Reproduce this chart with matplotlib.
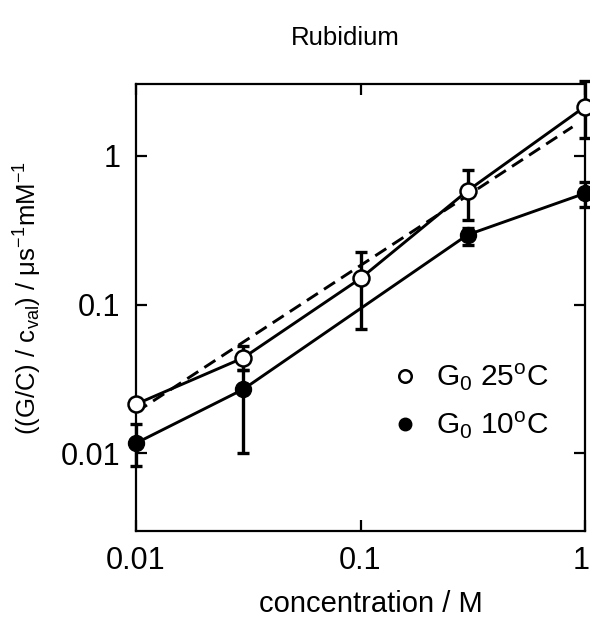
import matplotlib
matplotlib.use("Agg")
import matplotlib.pyplot as plt
import matplotlib.transforms as mtransforms
from matplotlib.lines import Line2D

plt.rcParams['font.family'] = ['Liberation Sans', 'DejaVu Sans']
plt.rcParams['mathtext.fontset'] = 'custom'
plt.rcParams['mathtext.rm'] = 'Liberation Sans'
plt.rcParams['mathtext.it'] = 'Liberation Sans:italic'
plt.rcParams['mathtext.bf'] = 'Liberation Sans:bold'

# Data
conc_25 = [0.01, 0.03, 0.1, 0.3, 1.0]
g_25 = [0.0214, 0.0438, 0.150, 0.584, 2.15]
g_25_low = [0.0200, 0.0362, 0.069, 0.373, 1.33]
g_25_high = [0.0230, 0.0528, 0.227, 0.805, 3.2]

conc_10 = [0.01, 0.03, 0.3, 1.0]
g_10 = [0.0117, 0.0269, 0.295, 0.561]
g_10_low = [0.0082, 0.0101, 0.250, 0.456]
g_10_high = [0.0158, 0.0362, 0.330, 0.665]

fit_x = [0.01, 0.88]
fit_y = [0.0189, 1.57]

x_ticks = [0.01, 0.1, 1]
x_labels = ['0.01', '0.1', '1']
y_ticks = [0.01, 0.1, 1]
y_labels = ['0.01', '0.1', '1']

fig = plt.figure(figsize=(5.9, 6.2), dpi=100)
ax = fig.add_axes([136/590, 1 - 531/620, (585-136)/590, (531-84)/620])
ax.set_xscale('log')
ax.set_yscale('log')
ax.set_xlim(0.01, 1.0)
ax.set_ylim(0.003, 3.05)

lw = 2.1
# dashed fit
ax.plot(fit_x, fit_y, color='black', lw=lw, linestyle=(0, (4.5, 2.5)), zorder=2)

# error bars
err25 = [[g - l for g, l in zip(g_25, g_25_low)], [h - g for g, h in zip(g_25, g_25_high)]]
err10 = [[g - l for g, l in zip(g_10, g_10_low)], [h - g for g, h in zip(g_10, g_10_high)]]
for xs, ys, err in [(conc_25, g_25, err25), (conc_10, g_10, err10)]:
    eb = ax.errorbar(xs, ys, yerr=err, fmt='none', ecolor='black', elinewidth=2.4,
                     capsize=4.5, capthick=2.4, zorder=3)
    for art in eb.lines[1] + eb.lines[2]:
        art.set_clip_on(False)

ax.plot(conc_25, g_25, color='black', lw=lw, zorder=2)
ax.plot(conc_10, g_10, color='black', lw=lw, zorder=2)
ax.plot(conc_25, g_25, linestyle='none', marker='o', markersize=11.5,
        markerfacecolor='white', markeredgecolor='black', markeredgewidth=1.8,
        zorder=4, clip_on=False)
ax.plot(conc_10, g_10, linestyle='none', marker='o', markersize=11.5,
        markerfacecolor='black', markeredgecolor='black', zorder=4, clip_on=False)

ax.minorticks_off()
ax.set_xticks(x_ticks)
ax.set_xticklabels(x_labels)
ax.set_yticks(y_ticks)
ax.set_yticklabels(y_labels)
ax.tick_params(which='both', direction='in', top=True, right=True, length=8,
               width=1.6, labelsize=22, pad=11)
for s in ax.spines.values():
    s.set_linewidth(1.6)

# keep the last x tick label inside the figure
offset = mtransforms.ScaledTranslation(-4/100, 0, fig.dpi_scale_trans)
last = ax.get_xticklabels()[-1]
last.set_transform(last.get_transform() + offset)

ax.set_xlabel('concentration / M', fontsize=21, labelpad=10)
ax.xaxis.label.set_x(0.522)
ax.set_ylabel(r'((G/C) / c$_{\mathrm{val}}$) / μs$^{-1}$mM$^{-1}$', fontsize=18.5, labelpad=12)
ax.yaxis.label.set_y(0.52)

fig.text(345/590, 1 - 38/620, 'Rubidium', fontsize=18.5, ha='center', va='center')

handles = [
    Line2D([], [], linestyle='none', marker='o', markersize=9, markerfacecolor='white',
           markeredgecolor='black', markeredgewidth=1.8),
    Line2D([], [], linestyle='none', marker='o', markersize=9, markerfacecolor='black',
           markeredgecolor='black'),
]
labels = [r'G$_0$ 25$^{\mathrm{o}}$C', r'G$_0$ 10$^{\mathrm{o}}$C']
ax.legend(handles, labels, loc='center left', bbox_to_anchor=(0.565, 0.29),
          frameon=False, fontsize=21.5, handlelength=1.0, handletextpad=0.55,
          labelspacing=0.55, borderpad=0, borderaxespad=0)

fig.savefig('out.png', dpi=100)
